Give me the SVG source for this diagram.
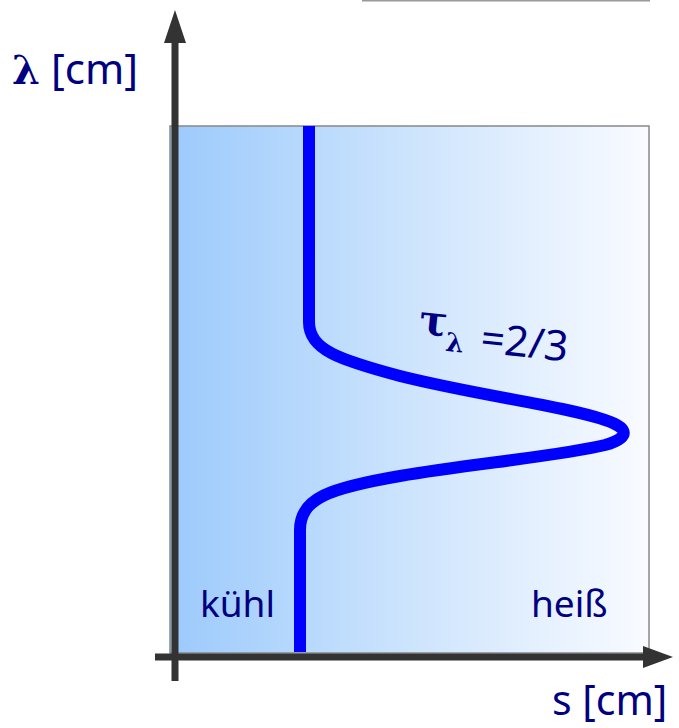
<svg xmlns="http://www.w3.org/2000/svg" width="679" height="728" viewBox="0 0 679 728">
  <defs>
    <linearGradient id="bg" x1="0" y1="0" x2="1" y2="0">
      <stop offset="0" stop-color="#9ccafc"/>
      <stop offset="0.5" stop-color="#cde4fd"/>
      <stop offset="1" stop-color="#f9fbff"/>
    </linearGradient>
    <style>
      .lbl { font-family: "Noto Sans", "DejaVu Sans", sans-serif; fill: #000080; }
      .greek { font-family: "DejaVu Serif", "Liberation Serif", serif; font-weight: bold; fill: #000080; }
      .axis { stroke: #333333; stroke-width: 7; fill: none; }
      .head { fill: #333333; }
    </style>
  </defs>
  <rect width="679" height="728" fill="#ffffff"/>
  <line x1="362" y1="0.5" x2="650" y2="0.5" stroke="#999999" stroke-width="2"/>
  <g id="panel">
    <rect x="170" y="126" width="479" height="527" fill="url(#bg)" stroke="#888888" stroke-width="1.5"/>
  </g>
  <g id="curve">
    <path d="M309,126 V322 C309,350 340,360 400,376 C480,396 560,405 605,420 C630,428 630,438 605,445 C560,456 470,464 400,476 C330,488 300,498 300,530 V652" fill="none" stroke="#0000ff" stroke-width="12"/>
  </g>
  <g id="axes">
    <line class="axis" x1="175" y1="681" x2="175" y2="40"/>
    <polygon class="head" points="175,10 164,43 186,43"/>
    <line class="axis" x1="155" y1="657" x2="646" y2="657"/>
    <polygon class="head" points="673,657 643,646 643,668"/>
  </g>
  <g id="labels">
    <text x="12" y="84" font-size="42" class="lbl"><tspan class="greek" font-size="40">λ</tspan> [cm]</text>
    <text x="552" y="715" font-size="41" class="lbl">s [cm]</text>
    <text x="200" y="617" font-size="37" class="lbl">kühl</text>
    <text x="531" y="617" font-size="37" class="lbl">heiß</text>
    <g transform="rotate(6 420 334)">
      <text x="418" y="334" font-size="42" class="greek">τ<tspan font-size="26" dy="14">λ</tspan></text>
      <text x="481" y="346" font-size="42" class="lbl">=2/3</text>
    </g>
  </g>
</svg>
